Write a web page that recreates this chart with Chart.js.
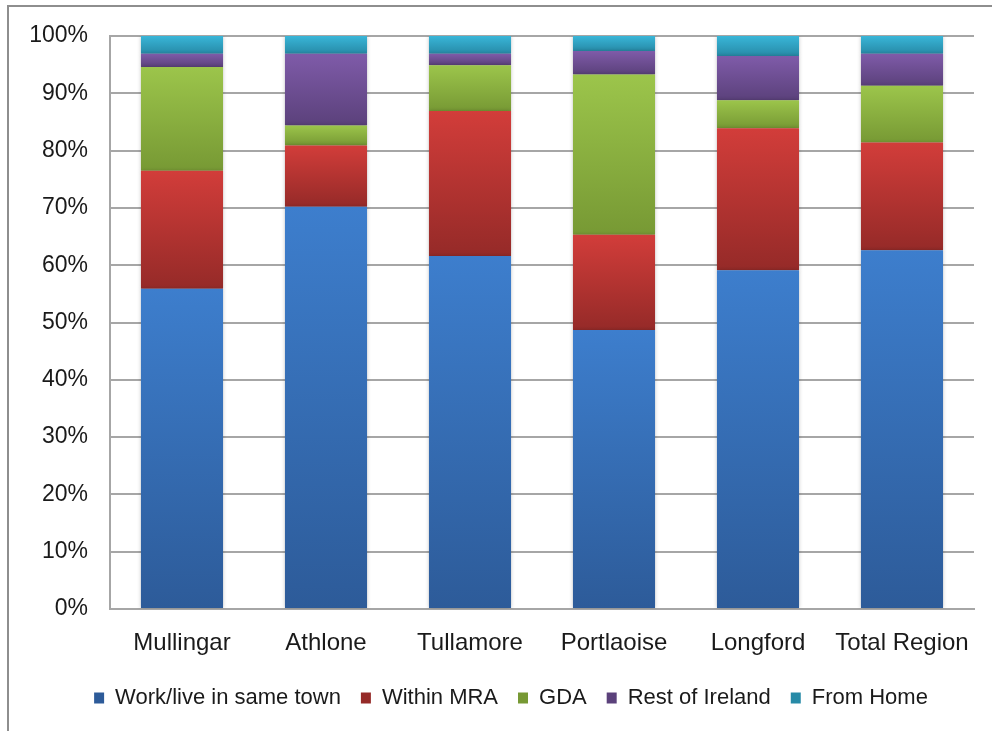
<!DOCTYPE html>
<html>
<head>
<meta charset="utf-8">
<script src="https://cdn.jsdelivr.net/npm/chart.js@4"></script>
<style>
  html, body { margin: 0; padding: 0; background: #fff; }
  #frame { position: absolute; left: 7px; top: 5px; width: 990px; height: 740px;
           border-left: 2px solid #8e8e8e; border-top: 2px solid #8e8e8e; }
  #wrap { position: absolute; left: 0; top: 0; width: 992px; height: 731px; }
</style>
</head>
<body>
<div id="frame"></div>
<div id="wrap"><canvas id="chart"></canvas></div>
<script>
const categories = ['Mullingar', 'Athlone', 'Tullamore', 'Portlaoise', 'Longford', 'Total Region'];
const seriesNames = ['Work/live in same town', 'Within MRA', 'GDA', 'Rest of Ireland', 'From Home'];

const sameTown = [55.9, 70.2, 61.6, 48.7, 59.1, 62.6];
const withinMRA = [20.6, 10.7, 25.3, 16.6, 24.8, 18.8];
const gda = [18.1, 3.5, 8.0, 28.0, 4.9, 9.9];
const restOfIreland = [2.3, 12.5, 2.0, 4.1, 7.7, 5.6];
const fromHome = [3.1, 3.1, 3.1, 2.6, 3.5, 3.1];

const yTicks = [0, 10, 20, 30, 40, 50, 60, 70, 80, 90, 100];

const seriesValues = [sameTown, withinMRA, gda, restOfIreland, fromHome];
// light (top) / dark (bottom) / flat for each series
const colours = [
    ['#3d7ecd', '#2d5b99', '#3a72bf'],
    ['#d23d3a', '#952a28', '#c0392b'],
    ['#9cc54b', '#779934', '#8cb43f'],
    ['#7f5ba9', '#5b417b', '#7050a0'],
    ['#39b6d8', '#278aa7', '#31a5c8']
];

function segmentFill(i) {
    return (context) => {
        if (context.type !== 'data') return colours[i][2];
        const chart = context.chart;
        const y = chart.scales.y;
        if (!y) return colours[i][2];
        const idx = context.dataIndex;
        let base = 0;
        for (let k = 0; k < i; k++) base += seriesValues[k][idx];
        const top = base + seriesValues[i][idx];
        const y0 = y.getPixelForValue(top);
        const y1 = y.getPixelForValue(base);
        if (!isFinite(y0) || !isFinite(y1) || y0 === y1) return colours[i][2];
        const g = chart.ctx.createLinearGradient(0, y0, 0, y1);
        g.addColorStop(0, colours[i][0]);
        g.addColorStop(1, colours[i][1]);
        return g;
    };
}

const datasets = seriesValues.map((vals, i) => ({
    label: seriesNames[i],
    data: vals,
    backgroundColor: segmentFill(i),
    borderWidth: 0,
    categoryPercentage: 0.57,
    barPercentage: 1.0
}));

const shadowPlugin = {
    id: 'barShadow',
    beforeDatasetsDraw(chart) {
        const ctx = chart.ctx;
        ctx.save();
        ctx.shadowColor = 'rgba(0,0,0,0.22)';
        ctx.shadowBlur = 4;
    },
    afterDatasetsDraw(chart) {
        chart.ctx.restore();
    }
};

// legend in the original is centred a bit right of the canvas middle
const legendShift = {
    id: 'legendShift',
    afterLayout(chart) {
        if (chart.legend) chart.legend.left += 48;
    }
};

const font = "'Liberation Sans', Arial, sans-serif";

new Chart(document.getElementById('chart'), {
    type: 'bar',
    data: { labels: categories, datasets: datasets },
    plugins: [shadowPlugin, legendShift],
    options: {
        responsive: true,
        maintainAspectRatio: false,
        animation: false,
        layout: { padding: { top: 36, right: 18, left: 0, bottom: 12 } },
        scales: {
            x: {
                stacked: true,
                grid: { display: false, drawTicks: false },
                border: { display: true, color: '#a6a6a6', width: 2 },
                ticks: { color: '#1a1a1a', font: { family: font, size: 24 }, padding: 20,
                         maxRotation: 0, minRotation: 0, autoSkip: false },
                afterFit: (scale) => { scale.height = 58; }
            },
            y: {
                stacked: true,
                min: 0,
                max: 100,
                afterBuildTicks: (scale) => { scale.ticks = yTicks.map(v => ({ value: v })); },
                afterFit: (scale) => { scale.width = 110; },
                grid: { color: '#a6a6a6', lineWidth: 2, drawTicks: false },
                border: { display: true, color: '#a6a6a6', width: 2 },
                ticks: {
                    color: '#1a1a1a',
                    font: { family: font, size: 23 },
                    padding: 22,
                    callback: (v) => v + '%'
                }
            }
        },
        plugins: {
            legend: {
                position: 'bottom',
                labels: {
                    color: '#1a1a1a',
                    font: { family: font, size: 22 },
                    boxWidth: 10,
                    boxHeight: 11,
                    padding: 20
                }
            },
            tooltip: { enabled: false }
        }
    }
});
</script>
</body>
</html>
